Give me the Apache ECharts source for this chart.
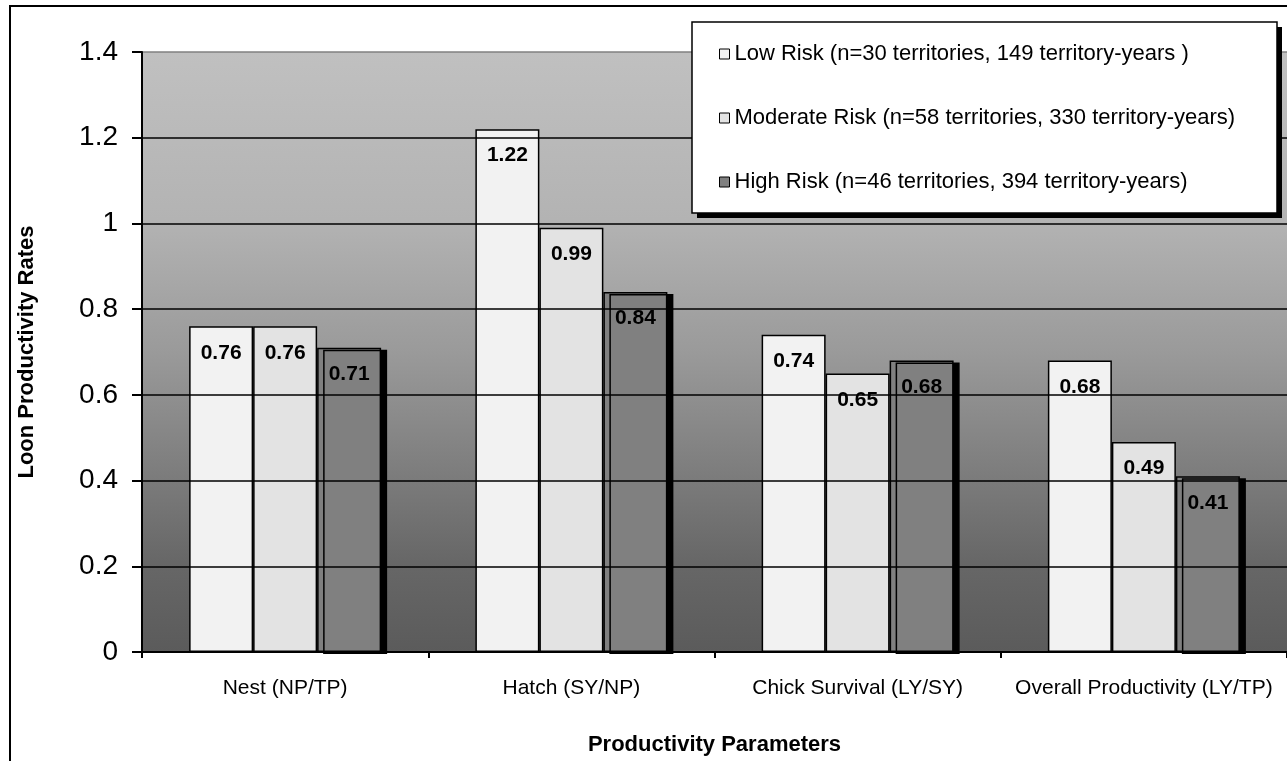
<!DOCTYPE html>
<html>
<head>
<meta charset="utf-8">
<script src="https://cdn.jsdelivr.net/npm/echarts@6/dist/echarts.min.js"></script>
<style>
  html, body { margin: 0; padding: 0; background: #fff; }
  #chart { width: 1287px; height: 761px; }
</style>
</head>
<body>
<div id="chart"></div>
<script>
const categories = ['Nest (NP/TP)', 'Hatch (SY/NP)', 'Chick Survival (LY/SY)', 'Overall Productivity (LY/TP)'];
const seriesNames = [
  'Low Risk (n=30 territories, 149 territory-years )',
  'Moderate Risk (n=58 territories, 330 territory-years)',
  'High Risk (n=46 territories, 394 territory-years)'
];
const lowRisk = [0.76, 1.22, 0.74, 0.68];
const moderateRisk = [0.76, 0.99, 0.65, 0.49];
const highRisk = [0.71, 0.84, 0.68, 0.41];
const yTicks = { min: 0, max: 1.4, interval: 0.2 };
const yAxisTitle = 'Loon Productivity Rates';
const xAxisTitle = 'Productivity Parameters';

const FONT = "'Liberation Sans', Arial, sans-serif";
const chart = echarts.init(document.getElementById('chart'), null, { renderer: 'canvas' });

const label = {
  show: true,
  position: 'insideTop',
  distance: 16,
  fontFamily: FONT,
  fontWeight: 'bold',
  fontSize: 21,
  color: '#000',
  formatter: p => p.value.toFixed(2)
};

const option = {
  backgroundColor: '#fff',
  animation: false,
  graphic: [
    {
      type: 'rect',
      shape: { x: 10, y: 6, width: 1400, height: 900 },
      style: { fill: 'none', stroke: '#000', lineWidth: 2 },
      z: 0
    },
    {
      type: 'rect',
      shape: { x: 697, y: 27, width: 585, height: 191 },
      style: { fill: '#000' },
      z: 50
    },
    {
      type: 'rect',
      shape: { x: 692, y: 22, width: 585, height: 191 },
      style: { fill: '#fff', stroke: '#000', lineWidth: 1.5 },
      z: 51
    }
  ],
  grid: {
    left: 142, top: 52, width: 1149, height: 604,
    show: true,
    borderWidth: 0,
    backgroundColor: {
      type: 'linear', x: 0, y: 0, x2: 0, y2: 1,
      colorStops: [
        { offset: 0, color: '#c0c0c0' },
        { offset: 0.28, color: '#b3b3b3' },
        { offset: 0.5, color: '#9a9a9a' },
        { offset: 0.7, color: '#7d7d7d' },
        { offset: 0.85, color: '#676767' },
        { offset: 1, color: '#5b5b5b' }
      ]
    }
  },
  legend: {
    orient: 'vertical',
    left: 692, top: 22,
    z: 60,
    padding: [20, 10, 20, 27],
    itemGap: 40,
    icon: 'rect',
    itemWidth: 10, itemHeight: 10,
    itemStyle: { borderColor: '#000', borderWidth: 1, shadowBlur: 0, shadowOffsetX: 0, shadowOffsetY: 0, shadowColor: 'rgba(0,0,0,0)' },
    textStyle: { fontFamily: FONT, fontSize: 22, color: '#000', lineHeight: 24 },
    data: seriesNames
  },
  xAxis: {
    type: 'category',
    data: categories,
    z: 10,
    axisLine: { lineStyle: { color: '#000', width: 2 } },
    axisTick: { show: true, alignWithLabel: false, length: 6, lineStyle: { color: '#000', width: 2 } },
    axisLabel: { interval: 0, fontFamily: FONT, fontSize: 21, color: '#000', margin: 26 },
    name: xAxisTitle,
    nameLocation: 'middle',
    nameGap: 82,
    nameTextStyle: { fontFamily: FONT, fontSize: 22, fontWeight: 'bold', color: '#000' }
  },
  yAxis: {
    type: 'value',
    min: yTicks.min, max: yTicks.max, interval: yTicks.interval,
    z: 10,
    axisLine: { show: true, lineStyle: { color: '#000', width: 2 } },
    axisTick: { show: true, length: 10, lineStyle: { color: '#000', width: 2 } },
    axisLabel: { fontFamily: FONT, fontSize: 28, color: '#000', margin: 24 },
    splitLine: { show: true, lineStyle: { color: ['#000', '#000', '#000', '#000', '#000', '#000', '#000', '#808080'], width: 1.5 } },
    name: yAxisTitle,
    nameLocation: 'middle',
    nameGap: 104,
    nameTextStyle: { fontFamily: FONT, fontSize: 22, fontWeight: 'bold', color: '#000' }
  },
  series: [
    {
      name: seriesNames[0], type: 'bar', data: lowRisk,
      barWidth: 64, barGap: '0%',
      itemStyle: { color: '#f2f2f2', borderColor: '#000', borderWidth: 1.5 },
      label: label
    },
    {
      name: seriesNames[1], type: 'bar', data: moderateRisk,
      barWidth: 64, barGap: '0%',
      itemStyle: { color: '#e3e3e3', borderColor: '#000', borderWidth: 1.5 },
      label: label
    },
    {
      name: seriesNames[2], type: 'bar', data: highRisk,
      barWidth: 64, barGap: '0%',
      itemStyle: { color: '#808080', borderColor: '#000', borderWidth: 1.5, shadowColor: '#000', shadowBlur: 0, shadowOffsetX: 6, shadowOffsetY: 2 },
      label: label
    }
  ]
};
chart.setOption(option);
</script>
</body>
</html>
